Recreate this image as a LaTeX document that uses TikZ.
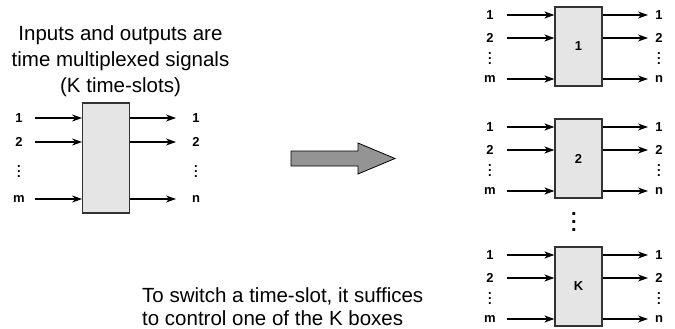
\documentclass[tikz,border=0pt]{standalone}
\usepackage{fontspec}
\setmainfont{Liberation Sans}
\usetikzlibrary{arrows.meta}
\newcommand{\vdts}{\vbox{\baselineskip=5pt\lineskiplimit=-20pt\hbox{.}\hbox{.}\hbox{.}}}
\newcommand{\bigvdts}{\vbox{\baselineskip=8pt\lineskiplimit=-20pt\hbox{.}\hbox{.}\hbox{.}}}
\tikzset{
  box/.style={draw=black!80, fill=black!10, line width=1.2pt, minimum width=47pt, inner sep=0pt,
              font=\bfseries\fontsize{13}{15}\selectfont},
  lbl/.style={inner sep=0pt, font=\bfseries\fontsize{13}{15}\selectfont},
  arr/.style={line width=1.1pt, -{Stealth[length=10pt,width=7pt,inset=3pt]}},
  bigtext/.style={inner sep=0pt, font=\fontsize{20.5}{26}\selectfont},
  bigarrow/.style={fill=black!42, draw=black, line width=0.8pt, line join=miter}
}
\begin{document}
\begin{tikzpicture}[x=1pt,y=-1pt]
\useasboundingbox (0,0) rectangle (675,329);

% title text
\node[bigtext, align=center, anchor=north] (title) at (120.5,25)
  {Inputs and outputs are\\time multiplexed signals\\(K time-slots)};

% left block
\node[box, minimum width=46.6pt, minimum height=110pt] (L) at (106,158) {};
\node[lbl] (Li1) at (19,118) {1};
\node[lbl] (Li2) at (19,142) {2};
\node[lbl] (Lid) at (19,172) {\vdts};
\node[lbl] (Lim) at (19,199) {m};
\node[lbl] (Lo1) at (196,118) {1};
\node[lbl] (Lo2) at (196,142) {2};
\node[lbl] (Lod) at (196,172) {\vdts};
\node[lbl] (Lon) at (196,199) {n};
\foreach \r in {i1,i2,im} \draw[arr, shorten <=16pt] (L\r.center) -- (L\r -| L.west);
\foreach \r/\s in {o1/i1,o2/i2,on/im} \draw[arr, shorten >=20pt] (L\s -| L.east) -- (L\r.center);

% big arrow
\draw[bigarrow] (291,151) -- (358,151) -- (358,143) -- (395,158.5) -- (358,174) -- (358,166) -- (291,166) -- cycle;

% right blocks
\foreach \n/\t/\lab in {A/7/1, B/119/2, C/247/K} {
  \node[box, minimum height=79pt] (\n) at (578.5,\t+39.5) {\lab};
  \node[lbl] (\n i1) at (490,\t+8) {1};
  \node[lbl] (\n i2) at (490,\t+31) {2};
  \node[lbl] (\n id) at (490,\t+52) {\vdts};
  \node[lbl] (\n im) at (490,\t+72) {m};
  \node[lbl] (\n o1) at (659,\t+8) {1};
  \node[lbl] (\n o2) at (659,\t+31) {2};
  \node[lbl] (\n od) at (659,\t+52) {\vdts};
  \node[lbl] (\n on) at (659,\t+72) {n};
  \draw[arr, shorten <=17pt] (\n i1.center) -- (\n i1 -| \n.west);
  \draw[arr, shorten <=17pt] (\n i2.center) -- (\n i2 -| \n.west);
  \draw[arr, shorten <=17pt] (\n im.center) -- (\n im -| \n.west);
  \draw[arr, shorten >=11pt] (\n i1 -| \n.east) -- (\n o1.center);
  \draw[arr, shorten >=11pt] (\n i2 -| \n.east) -- (\n o2.center);
  \draw[arr, shorten >=11pt] (\n im -| \n.east) -- (\n on.center);
}
\node[inner sep=0pt, font=\bfseries\fontsize{20}{22}\selectfont] (vd) at (574,222) {\bigvdts};

% bottom text
\node[bigtext, align=left, anchor=north west, font=\fontsize{20.5}{23}\selectfont] (note) at (142,287)
  {To switch a time-slot, it suffices\\to control one of the K boxes};
\end{tikzpicture}
\end{document}
